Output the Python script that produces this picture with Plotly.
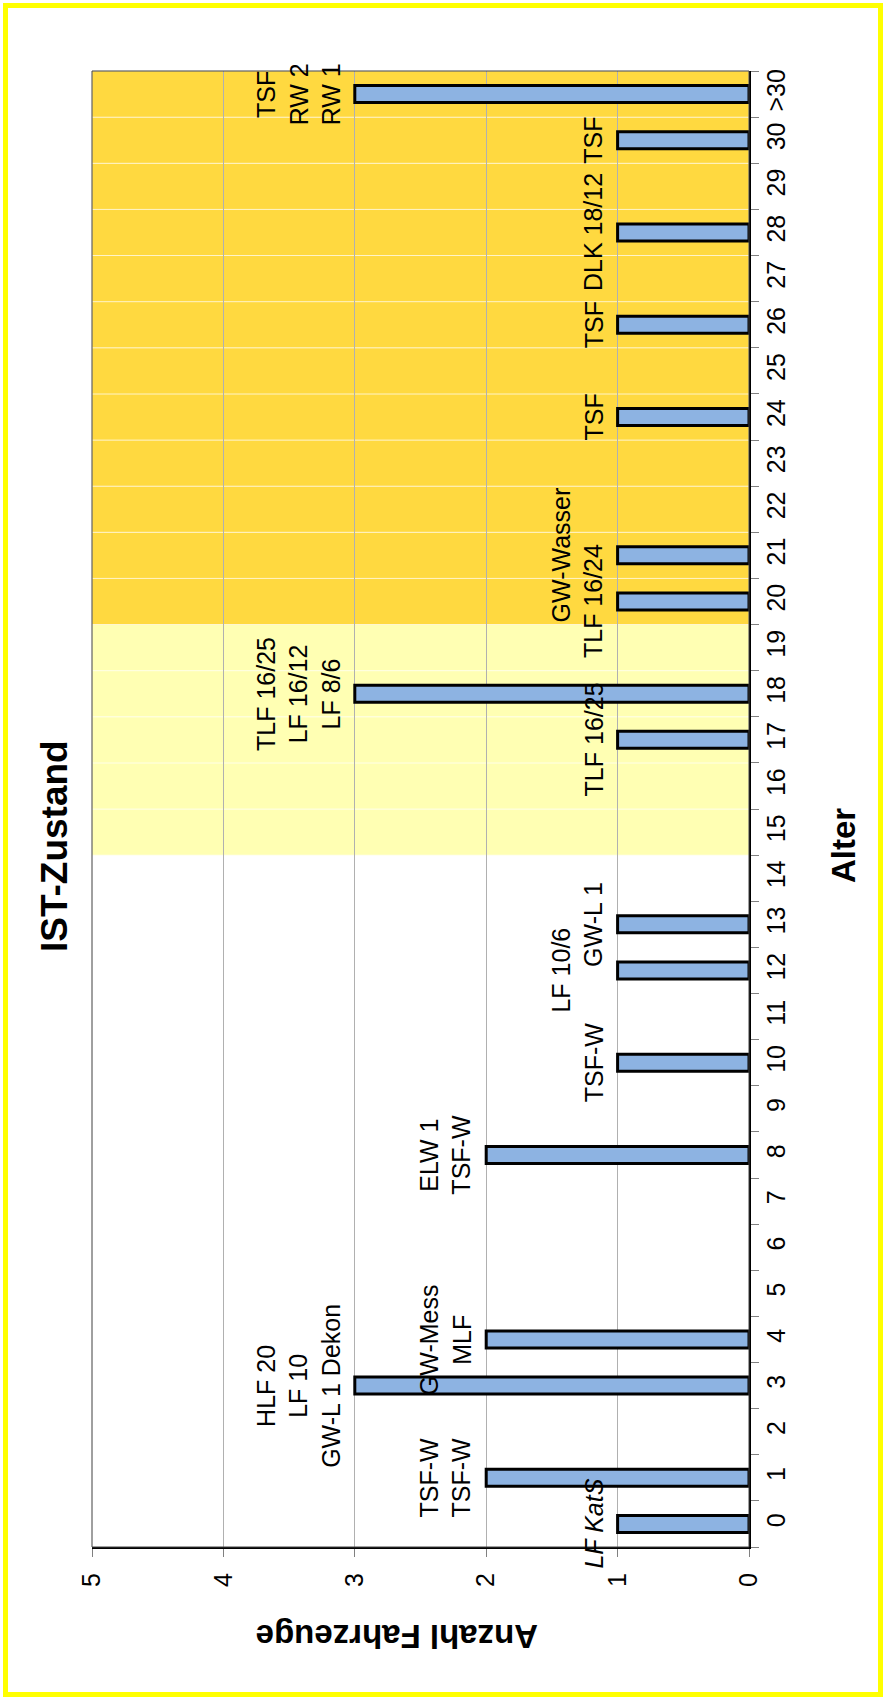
import plotly.graph_objects as go

# Vehicle age distribution (Alter = age in years, Anzahl = number of vehicles)
categories = [str(i) for i in range(31)] + [">30"]
counts = [1, 2, 0, 3, 2, 0, 0, 0, 2, 0,
          1, 0, 1, 1, 0, 0, 0, 1, 3, 0,
          1, 1, 0, 0, 1, 0, 1, 0, 1, 0,
          1, 3]
# vehicle names per age group (one entry per line, "" = empty line)
vehicle_labels = {
    "0": ["<i>LF KatS</i>"],
    "1": ["TSF-W", "TSF-W"],
    "3": ["HLF 20", "LF 10", "GW-L 1 Dekon"],
    "4": ["GW-Mess", "MLF"],
    "8": ["ELW 1", "TSF-W"],
    "10": ["TSF-W"],
    "12": ["LF 10/6", ""],
    "13": ["GW-L 1"],
    "17": ["TLF 16/25"],
    "18": ["TLF 16/25", "LF 16/12", "LF 8/6"],
    "20": ["TLF 16/24"],
    "21": ["GW-Wasser", ""],
    "24": ["TSF"],
    "26": ["TSF"],
    "28": ["DLK 18/12"],
    "30": ["TSF"],
    ">30": ["TSF", "RW 2", "RW 1"],
}
value_ticks = [0, 1, 2, 3, 4, 5]
# shaded age bands: (first category, last category, colour)
age_bands = [("15", "19", "rgba(255,255,160,0.80)"),
             ("20", ">30", "rgba(255,210,30,0.85)")]

W, H = 886, 1704
L, R, T, B = 92, 749, 71, 1547          # plot area in pixels
PW, PH = R - L, B - T
FONT = "Liberation Sans, Arial, sans-serif"


def px(x):
    return (x - L) / PW


def py(y):
    return (B - y) / PH


fig = go.Figure()

# empty age groups get no bar at all
bar_values = [c if c else None for c in counts]
fig.add_trace(go.Bar(
    x=bar_values, y=categories, orientation="h", width=0.37,
    marker=dict(color="#8DB3E2", line=dict(color="black", width=3)),
    hoverinfo="x+y", showlegend=False,
))

shapes = []
for first, last, col in age_bands:
    i0, i1 = categories.index(first), categories.index(last)
    for i in range(i0, i1 + 1):
        shapes.append(dict(type="rect", xref="paper", yref="y", layer="between",
                           x0=0, x1=1, y0=i - 0.5, y1=i + 0.5,
                           fillcolor=col,
                           line=dict(color="rgba(255,255,255,0.55)", width=1)))

# plot-area frame
shapes.append(dict(type="rect", xref="paper", yref="paper", x0=0, x1=1, y0=0, y1=1,
                   line=dict(color="#404040", width=1), layer="above"))
# outer yellow frame of the page
shapes.append(dict(type="rect", xref="paper", yref="paper",
                   x0=px(5.5), x1=px(880.5), y0=py(1694.5), y1=py(5.5),
                   line=dict(color="#FFFF00", width=5), layer="above"))

annotations = []
for cat, lines in vehicle_labels.items():
    i = categories.index(cat)
    text = "<br>".join(l if l else "\u00a0" for l in lines)
    annotations.append(dict(x=counts[i], y=cat, xref="x", yref="y",
                            text=text, showarrow=False, textangle=-90,
                            xanchor="right", yanchor="middle", xshift=-8,
                            align="center",
                            font=dict(family=FONT, size=25, color="black")))

annotations += [
    dict(text="<b>IST-Zustand</b>", xref="paper", yref="paper",
         x=px(54), y=py(846), textangle=-90, showarrow=False,
         xanchor="center", yanchor="middle",
         font=dict(family=FONT, size=37, color="black")),
    dict(text="<b>Alter</b>", xref="paper", yref="paper",
         x=px(843), y=py(846), textangle=-90, showarrow=False,
         xanchor="center", yanchor="middle",
         font=dict(family=FONT, size=33, color="black")),
    dict(text="<b>Anzahl Fahrzeuge</b>", xref="paper", yref="paper",
         x=px(397), y=py(1637), textangle=180, showarrow=False,
         xanchor="center", yanchor="middle",
         font=dict(family=FONT, size=33, color="black")),
]

fig.update_layout(
    width=W, height=H,
    margin=dict(l=L, r=W - R, t=T, b=H - B, autoexpand=False),
    paper_bgcolor="white", plot_bgcolor="white",
    shapes=shapes, annotations=annotations,
    bargap=0.63, showlegend=False,
    font=dict(family=FONT, size=25, color="black"),
    xaxis=dict(range=[5, 0], tickvals=value_ticks, ticktext=[str(v) for v in value_ticks],
               tickangle=-90, ticks="outside", ticklen=8, tickcolor="#808080",
               showgrid=True, gridcolor="#B0B0B0", gridwidth=1, zeroline=False,
               showline=True, linecolor="black", linewidth=2,
               ticklabelstandoff=6,
               tickfont=dict(family=FONT, size=25, color="black")),
    yaxis=dict(type="category", categoryorder="array", categoryarray=categories,
               range=[-0.5, len(categories) - 0.5], side="right",
               tickangle=-90, ticks="outside", ticklen=8, tickcolor="#808080",
               tickson="boundaries", showgrid=False, zeroline=False,
               showline=True, linecolor="black", linewidth=2,
               ticklabelstandoff=4,
               tickfont=dict(family=FONT, size=25, color="black")),
)

fig.write_html("out.html")
